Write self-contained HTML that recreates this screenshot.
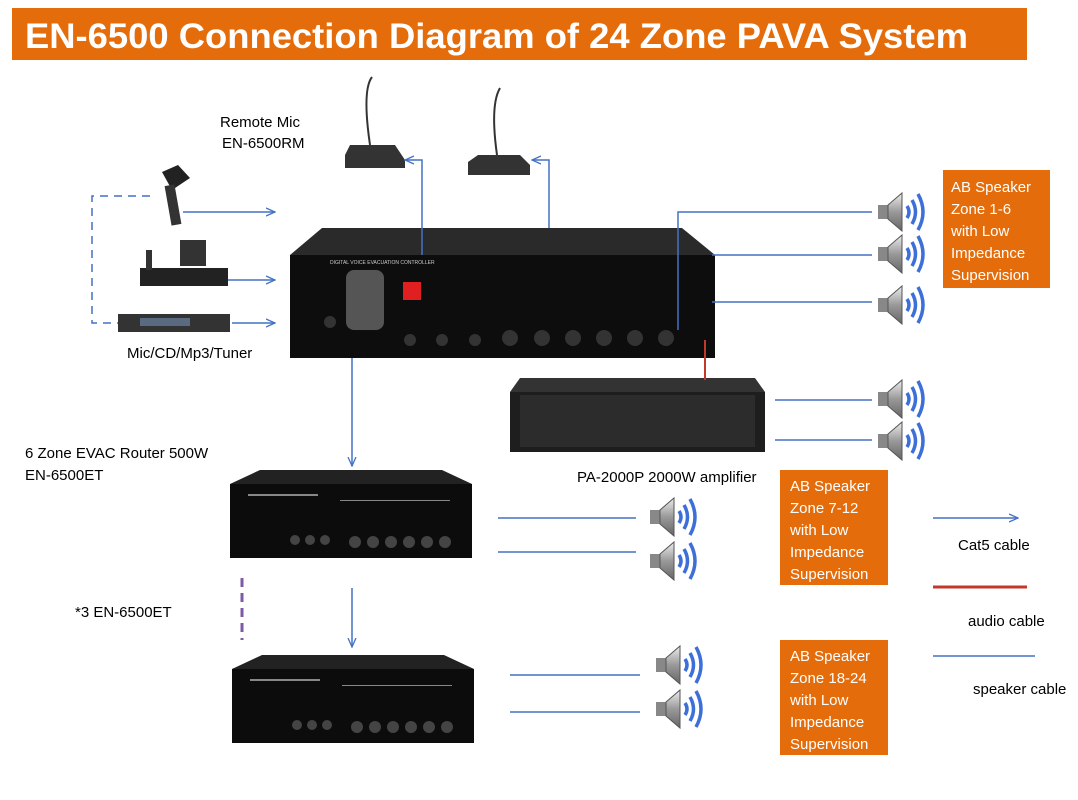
<!DOCTYPE html>
<html><head><style>
body{margin:0;background:#fff;}
svg{display:block;font-family:"Liberation Sans",sans-serif;}
</style></head><body>
<svg width="1078" height="800" viewBox="0 0 1078 800" xmlns="http://www.w3.org/2000/svg">
<defs>
<marker id="ar" markerWidth="10" markerHeight="10" refX="9" refY="5" orient="auto" markerUnits="userSpaceOnUse">
<path d="M0,1 L9,5 L0,9" fill="none" stroke="#4472c4" stroke-width="1.3"/></marker>
<linearGradient id="cone" x1="0" y1="0" x2="0" y2="1"><stop offset="0" stop-color="#eee"/><stop offset="0.5" stop-color="#999"/><stop offset="1" stop-color="#666"/></linearGradient>
<g id="spk">
<rect x="0" y="14" width="10" height="14" fill="#888"/>
<polygon points="10,14 24,2 24,40 10,28" fill="url(#cone)" stroke="#555" stroke-width="1"/>
<path d="M29,15 Q33,21 29,27" fill="none" stroke="#3d6fd8" stroke-width="3.5"/>
<path d="M34,9 Q41,21 34,33" fill="none" stroke="#3d6fd8" stroke-width="3.5"/>
<path d="M40,3 Q50,21 40,39" fill="none" stroke="#3d6fd8" stroke-width="3.5"/>
</g>
<g id="router">
<polygon points="30,0 212,0 242,14 0,14" fill="#222"/>
<rect x="0" y="14" width="242" height="74" fill="#0c0c0c"/>
<g fill="#444"><circle cx="65" cy="70" r="5"/><circle cx="80" cy="70" r="5"/><circle cx="95" cy="70" r="5"/>
<circle cx="125" cy="72" r="6"/><circle cx="143" cy="72" r="6"/><circle cx="161" cy="72" r="6"/><circle cx="179" cy="72" r="6"/><circle cx="197" cy="72" r="6"/><circle cx="215" cy="72" r="6"/></g>
<rect x="18" y="24" width="70" height="2" fill="#888"/><rect x="110" y="30" width="110" height="1" fill="#888"/>
</g>
</defs>

<rect x="12" y="8" width="1015" height="52" fill="#e46c0a"/>
<text x="25" y="48" font-size="35" font-weight="bold" fill="#fff" textLength="943" lengthAdjust="spacingAndGlyphs">EN-6500 Connection Diagram of 24 Zone PAVA System</text>

<!-- remote mics -->
<path d="M372,77 Q362,90 370,145" fill="none" stroke="#333" stroke-width="2"/>
<polygon points="350,145 395,145 405,160 405,168 345,168 345,155" fill="#333"/>
<path d="M500,88 Q490,105 497,155" fill="none" stroke="#333" stroke-width="2"/>
<polygon points="478,155 520,155 530,165 530,175 468,175 468,162" fill="#333"/>
<text x="220" y="127" font-size="15">Remote Mic</text>
<text x="222" y="148" font-size="15">EN-6500RM</text>

<!-- sources -->
<path d="M162,172 L178,165 L190,178 L172,190 Z" fill="#222"/><rect x="168" y="185" width="10" height="40" fill="#333" transform="rotate(-10 173 205)"/>
<rect x="140" y="268" width="88" height="18" fill="#222"/><rect x="146" y="250" width="6" height="20" fill="#333"/><rect x="180" y="240" width="26" height="26" fill="#333"/>
<rect x="118" y="314" width="112" height="18" fill="#333"/><rect x="140" y="318" width="50" height="8" fill="#5a6a80"/>
<text x="127" y="358" font-size="15">Mic/CD/Mp3/Tuner</text>
<path d="M150,196 H92 V323 H118" fill="none" stroke="#4472c4" stroke-width="1.5" stroke-dasharray="8,6"/>

<!-- controller -->
<polygon points="322,228 682,228 715,255 290,255" fill="#2a2a2a"/>
<rect x="290" y="255" width="425" height="103" fill="#0d0d0d"/>
<rect x="346" y="270" width="38" height="60" rx="8" fill="#555"/>
<rect x="403" y="282" width="18" height="18" fill="#e02020"/>
<g fill="#333"><circle cx="510" cy="338" r="8"/><circle cx="542" cy="338" r="8"/><circle cx="573" cy="338" r="8"/><circle cx="604" cy="338" r="8"/><circle cx="635" cy="338" r="8"/><circle cx="666" cy="338" r="8"/>
<circle cx="410" cy="340" r="6"/><circle cx="442" cy="340" r="6"/><circle cx="475" cy="340" r="6"/><circle cx="330" cy="322" r="6"/></g>
<text x="330" y="264" font-size="5" fill="#ccc">DIGITAL VOICE EVACUATION CONTROLLER</text>

<!-- amplifier -->
<polygon points="520,378 755,378 765,392 510,392" fill="#333"/>
<rect x="510" y="392" width="255" height="60" fill="#1e1e1e"/>
<rect x="520" y="395" width="235" height="52" fill="#2c2c2c"/>
<text x="577" y="482" font-size="15">PA-2000P  2000W amplifier</text>

<!-- routers -->
<use href="#router" x="230" y="470"/>
<use href="#router" x="232" y="655"/>
<text x="25" y="458" font-size="15">6 Zone EVAC Router 500W</text>
<text x="25" y="480" font-size="15">EN-6500ET</text>
<text x="75" y="617" font-size="15">*3 EN-6500ET</text>
<line x1="242" y1="578" x2="242" y2="640" stroke="#7d5aa6" stroke-width="3" stroke-dasharray="9,6"/>

<!-- blue connectors -->
<g stroke="#4472c4" stroke-width="1.5" fill="none">
<line x1="183" y1="212" x2="275" y2="212" marker-end="url(#ar)"/>
<line x1="228" y1="280" x2="275" y2="280" marker-end="url(#ar)"/>
<line x1="232" y1="323" x2="275" y2="323" marker-end="url(#ar)"/>
<path d="M422,255 V160 H405" marker-end="url(#ar)"/>
<path d="M549,228 V160 H532" marker-end="url(#ar)"/>
<path d="M678,330 V212 H872"/>
<line x1="712" y1="255" x2="872" y2="255"/>
<line x1="712" y1="302" x2="872" y2="302"/>
<line x1="352" y1="358" x2="352" y2="466" marker-end="url(#ar)"/>
<line x1="775" y1="400" x2="872" y2="400"/>
<line x1="775" y1="440" x2="872" y2="440"/>
<line x1="498" y1="518" x2="636" y2="518"/>
<line x1="498" y1="552" x2="636" y2="552"/>
<line x1="352" y1="588" x2="352" y2="647" marker-end="url(#ar)"/>
<line x1="510" y1="675" x2="640" y2="675"/>
<line x1="510" y1="712" x2="640" y2="712"/>
<line x1="933" y1="518" x2="1018" y2="518" marker-end="url(#ar)"/>
<line x1="933" y1="656" x2="1035" y2="656"/>
</g>
<line x1="705" y1="340" x2="705" y2="380" stroke="#c0392b" stroke-width="2"/>
<line x1="933" y1="587" x2="1027" y2="587" stroke="#c0392b" stroke-width="3"/>

<!-- speakers -->
<use href="#spk" x="878" y="191"/><use href="#spk" x="878" y="233"/><use href="#spk" x="878" y="284"/>
<use href="#spk" x="878" y="378"/><use href="#spk" x="878" y="420"/>
<use href="#spk" x="650" y="496"/><use href="#spk" x="650" y="540"/>
<use href="#spk" x="656" y="644"/><use href="#spk" x="656" y="688"/>

<!-- orange boxes -->
<rect x="943" y="170" width="107" height="118" fill="#e46c0a"/>
<g fill="#fff" font-size="15"><text x="951" y="192">AB Speaker</text><text x="951" y="214">Zone 1-6</text><text x="951" y="236">with Low</text><text x="951" y="258">Impedance</text><text x="951" y="280">Supervision</text></g>
<rect x="780" y="470" width="108" height="115" fill="#e46c0a"/>
<g fill="#fff" font-size="15"><text x="790" y="491">AB Speaker</text><text x="790" y="513">Zone 7-12</text><text x="790" y="535">with Low</text><text x="790" y="557">Impedance</text><text x="790" y="579">Supervision</text></g>
<rect x="780" y="640" width="108" height="115" fill="#e46c0a"/>
<g fill="#fff" font-size="15"><text x="790" y="661">AB Speaker</text><text x="790" y="683">Zone 18-24</text><text x="790" y="705">with Low</text><text x="790" y="727">Impedance</text><text x="790" y="749">Supervision</text></g>

<g font-size="15"><text x="958" y="550">Cat5 cable</text><text x="968" y="626">audio cable</text><text x="973" y="694">speaker cable</text></g>
</svg>
</body></html>
